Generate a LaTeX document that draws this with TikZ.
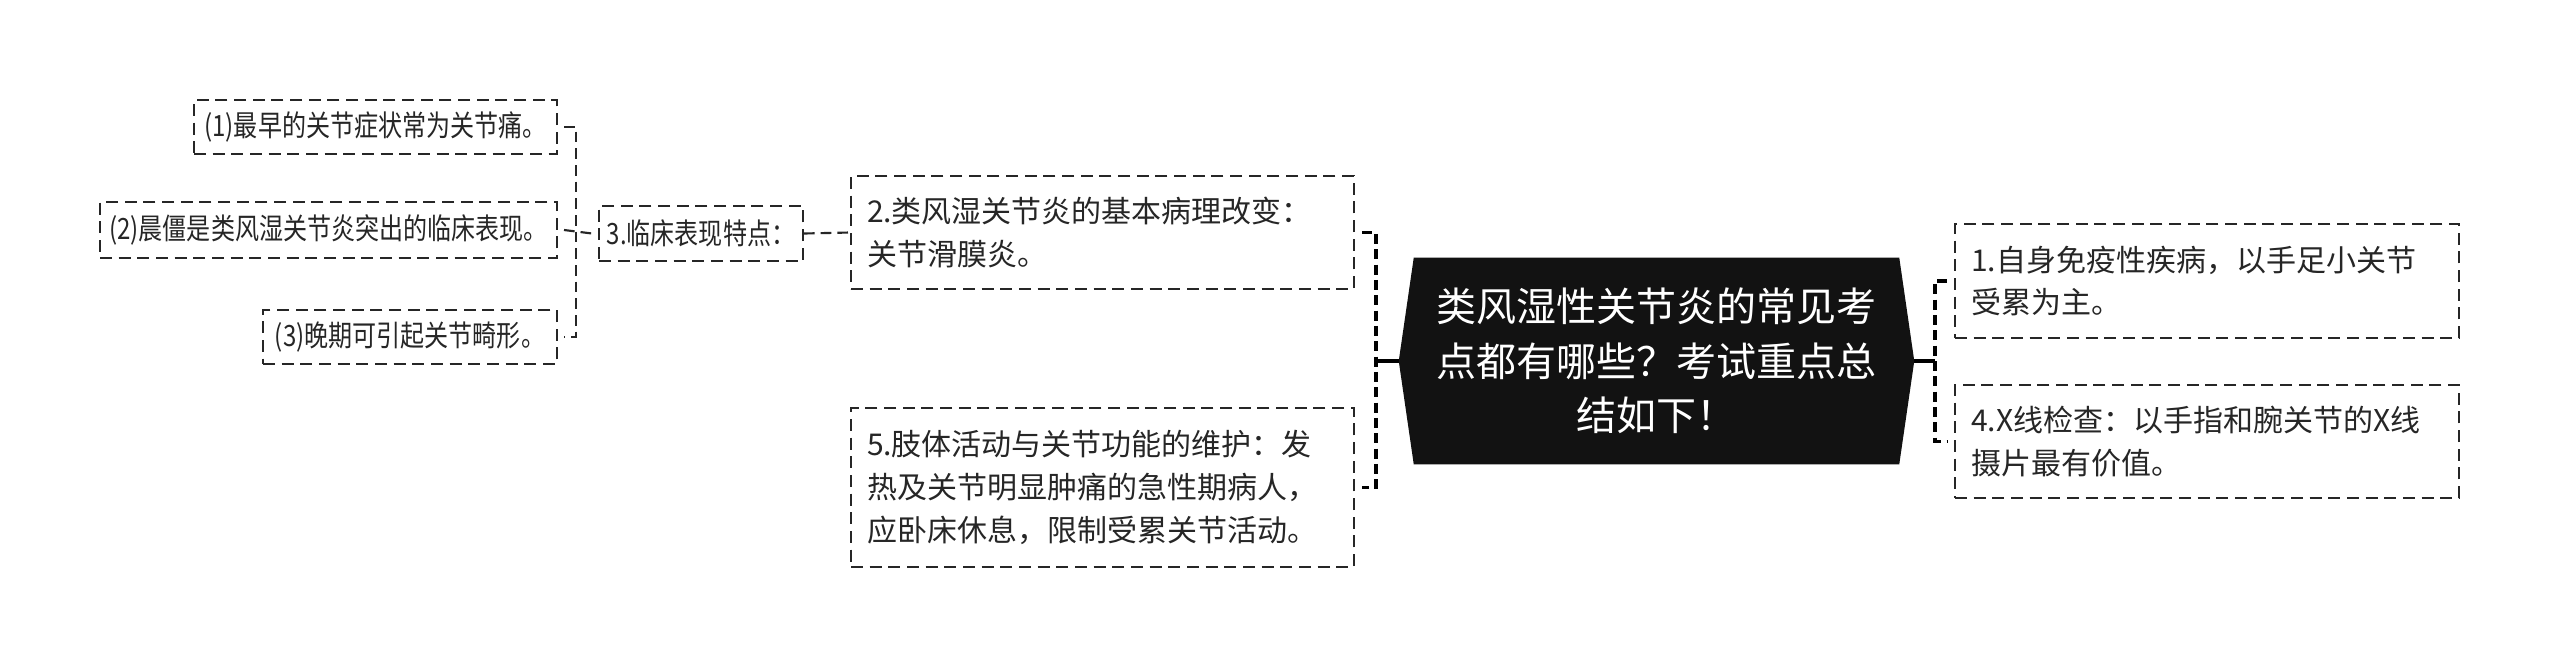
\documentclass[tikz,border=0pt]{standalone}
\usepackage{fontspec}
\setmainfont{Noto Sans CJK SC}
\newfontfamily\cjkn[FakeStretch=0.82]{Noto Sans CJK SC}
\usetikzlibrary{calc,backgrounds}
\newdimen\pxu \pxu=0.75pt
\definecolor{txt}{HTML}{262626}
\tikzset{
  box/.style={draw=txt, line width=1.5pt, dash pattern=on 9pt off 5pt, text=txt,
    font=\fontsize{22.5pt}{32pt}\selectfont, align=left, inner xsep=12pt, inner ysep=0pt,
    text width=472\pxu},
  sbox/.style={draw=txt, line width=1.5pt, dash pattern=on 9pt off 5pt, text=txt,
    font=\cjkn\fontsize{22pt}{26pt}\selectfont, inner xsep=0pt, inner ysep=0pt},
  brk/.style={draw=black, line width=2.4pt, dash pattern=on 7.5pt off 4pt},
  sbrk/.style={draw=txt, line width=1.6pt, dash pattern=on 8pt off 4.5pt},
  solidc/.style={draw=black, line width=2.4pt},
  center/.style={text=white, align=center, font=\fontsize{30pt}{41pt}\selectfont,
    minimum width=485\pxu, minimum height=206\pxu, inner sep=0pt},
}
\begin{document}
\begin{tikzpicture}[x=0.75pt,y=-0.75pt]
\begin{scope}[on background layer]
\fill[white] (0,0) rectangle (2560,668);
\end{scope}
\useasboundingbox (0,0) rectangle (2560,668);

% center
\node[center] (c) at (1656.5,361) {类风湿性关节炎的常见考\\点都有哪些？考试重点总\\结如下！};
\begin{scope}[on background layer]
\fill[black!93] (c.north west) -- (c.north east) -- ($(c.east)+(15,0)$) -- (c.south east)
  -- (c.south west) -- ($(c.west)+(-15,0)$) -- cycle;
\end{scope}
\coordinate (cr) at ($(c.east)+(15,0)$);
\coordinate (cl) at ($(c.west)+(-15,0)$);

% right boxes
\node[box, minimum height=114\pxu] (b1) at (2207,281) {1.自身免疫性疾病，以手足小关节\\受累为主。};
\node[box, minimum height=113\pxu] (b4) at (2207,441.5) {4.X线检查：以手指和腕关节的X线\\摄片最有价值。};

% left boxes
\node[box, text width=471\pxu, minimum height=113\pxu] (b2) at (1102.5,232.5) {2.类风湿关节炎的基本病理改变：\\关节滑膜炎。};
\node[box, text width=471\pxu, minimum height=159\pxu] (b5) at (1102.5,487.5) {5.肢体活动与关节功能的维护：发\\热及关节明显肿痛的急性期病人，\\应卧床休息，限制受累关节活动。};

\node[sbox, minimum width=204\pxu, minimum height=55\pxu] (b3) at (701,233.5) {3.临床表现特点：};

\node[sbox, minimum width=363\pxu, minimum height=54\pxu] (s1) at (375.5,127) {(1)最早的关节症状常为关节痛。};
\node[sbox, minimum width=457\pxu, minimum height=56\pxu] (s2) at (328.5,230) {(2)晨僵是类风湿关节炎突出的临床表现。};
\node[sbox, minimum width=294\pxu, minimum height=54\pxu] (s3) at (410,337) {(3)晚期可引起关节畸形。};

% right connectors
\coordinate (rb) at (1935,361);
\draw[solidc] (cr) -- (rb);
\draw[brk] ($(b1.west)+(-7,0)$) -- (rb |- b1.west) -- (rb |- b4.west) -- ($(b4.west)+(-7,0)$);

% left connectors
\coordinate (lb) at (1376,361);
\draw[solidc] (cl) -- (lb);
\draw[brk] ($(b2.east)+(7,0)$) -- (lb |- b2.east) -- (lb |- b5.east) -- ($(b5.east)+(7,0)$);

\draw[sbrk] (b3.east) -- (b2.west);

\coordinate (sb) at (576,230);
\draw[sbrk] ($(s1.east)+(6,0)$) -- (sb |- s1.east) -- (sb |- s3.east) -- ($(s3.east)+(6,0)$);
\draw[sbrk] ($(s2.east)+(6,0)$) -- ($(b3.west)+(-6,0)$);
\end{tikzpicture}
\end{document}
